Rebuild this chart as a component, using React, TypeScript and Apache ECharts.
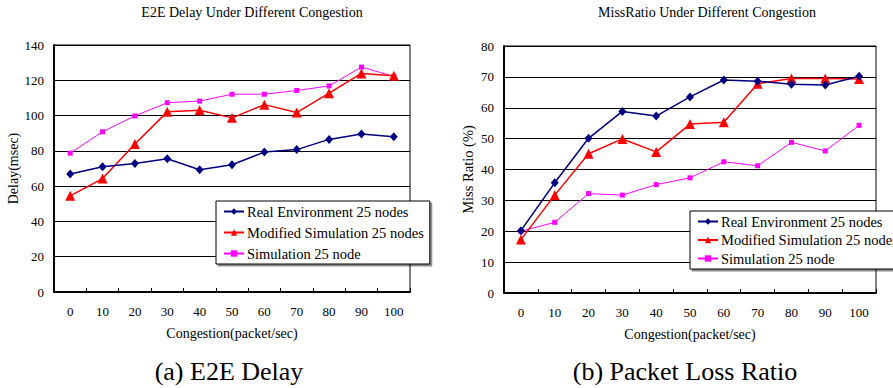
import React, { useEffect, useRef } from "react";
import * as echarts from "echarts";

const categories = ["0", "10", "20", "30", "40", "50", "60", "70", "80", "90", "100"];

const seriesNames = [
  "Real Environment 25 nodes",
  "Modified Simulation 25 nodes",
  "Simulation 25 node",
];

// E2E Delay (msec)
const delayReal = [66.9, 71.0, 72.9, 75.5, 69.3, 72.1, 79.3, 80.7, 86.5, 89.5, 88.0];
const delayModified = [54.5, 64.3, 83.9, 102.1, 103.0, 98.7, 106.2, 101.7, 112.7, 123.9, 122.6];
const delaySim = [78.7, 90.8, 99.8, 107.3, 108.2, 112.1, 112.1, 114.2, 116.8, 127.5, 122.2];

// Miss Ratio (%)
const missReal = [20.2, 35.7, 50.1, 58.8, 57.3, 63.5, 69.0, 68.6, 67.6, 67.4, 70.2];
const missModified = [17.3, 31.7, 45.1, 49.9, 45.7, 54.7, 55.3, 67.8, 69.5, 69.5, 69.3];
const missSim = [20.0, 22.9, 32.2, 31.7, 35.1, 37.3, 42.5, 41.2, 48.8, 46.0, 54.3];

const FONT = "Liberation Serif";

const colors = ["#000080", "#FF0000", "#FF00FF"];
const symbols = ["diamond", "triangle", "rect"];
const symbolSizes: any[] = [[8, 9], 10, 5];
const lineWidths = [1.5, 1.5, 1];

function makeSeries(data: number[][], axisIndex: number) {
  return data.map((d, i) => ({
    name: seriesNames[i],
    type: "line",
    xAxisIndex: axisIndex,
    yAxisIndex: axisIndex,
    data: d,
    symbol: symbols[i],
    symbolSize: symbolSizes[i],
    showSymbol: true,
    itemStyle: { color: colors[i] },
    lineStyle: { color: colors[i], width: lineWidths[i] },
    z: 10 - i,
  }));
}

function xAxisCfg(gridIndex: number) {
  return {
    type: "category",
    gridIndex,
    data: categories,
    boundaryGap: true,
    name: "Congestion(packet/sec)",
    nameLocation: "middle",
    nameGap: 34,
    nameTextStyle: { fontFamily: FONT, fontSize: 14, color: "#000" },
    axisLine: { show: true, lineStyle: { color: "#000", width: 2 } },
    axisTick: { show: true, inside: true, length: 4, alignWithLabel: false, lineStyle: { color: "#000", width: 1 } },
    axisLabel: { margin: 13, fontFamily: FONT, fontSize: 13, color: "#000" },
    splitLine: { show: false },
  };
}

function yAxisCfg(gridIndex: number, max: number, interval: number, name: string, gap: number, nameSize: number) {
  return {
    type: "value",
    gridIndex,
    min: 0,
    max,
    interval,
    name,
    nameLocation: "middle",
    nameGap: gap,
    nameRotate: 90,
    nameTextStyle: { fontFamily: FONT, fontSize: nameSize, color: "#000" },
    axisLine: { show: true, lineStyle: { color: "#000", width: 2 } },
    axisTick: { show: false },
    axisLabel: { margin: 10, fontFamily: FONT, fontSize: 13, color: "#000" },
    splitLine: { show: true, lineStyle: { color: "#000", width: 1 } },
  };
}

function legendCfg(left: number, top: number, gap: number) {
  return {
    show: true,
    orient: "vertical",
    left,
    top,
    itemWidth: 20,
    itemHeight: 8,
    itemGap: gap,
    padding: [3, 6, 3, 7],
    backgroundColor: "#fff",
    borderColor: "#000",
    borderWidth: 1,
    shadowColor: "rgba(0,0,0,0.45)",
    shadowOffsetX: 2,
    shadowOffsetY: 2,
    shadowBlur: 0,
    selectedMode: false,
    textStyle: { fontFamily: FONT, fontSize: 14.5, color: "#000", padding: [0, 0, 0, -2] },
    data: seriesNames.map((n) => ({ name: n })),
    z: 20,
  };
}

export default function App() {
  const ref = useRef<HTMLDivElement>(null);

  useEffect(() => {
    document.body.style.margin = "0";
    if (!ref.current) return;
    const chart = echarts.init(ref.current, null, { renderer: "svg" });
    const option: any = {
      animation: false,
      backgroundColor: "#fff",
      textStyle: { fontFamily: FONT },
      grid: [
        { left: 54, top: 45, width: 356, height: 247, show: true, borderColor: "#000", borderWidth: 1, containLabel: false },
        { left: 504, top: 46, width: 372, height: 247, show: true, borderColor: "#000", borderWidth: 1, containLabel: false },
      ],
      xAxis: [xAxisCfg(0), xAxisCfg(1)],
      yAxis: [
        yAxisCfg(0, 140, 20, "Delay(msec)", 34, 14),
        yAxisCfg(1, 80, 10, "Miss Ratio (%)", 29, 14.5),
      ],
      legend: [legendCfg(216, 201, 6), legendCfg(690, 211, 3.5)],
      series: [
        ...makeSeries([delayReal, delayModified, delaySim], 0),
        ...makeSeries([missReal, missModified, missSim], 1),
      ],
      graphic: [
        {
          type: "text",
          x: 252,
          y: 12,
          style: { text: "E2E Delay Under Different Congestion", align: "center", verticalAlign: "middle", fontFamily: FONT, fontSize: 14, fill: "#000" },
        },
        {
          type: "text",
          x: 707,
          y: 12,
          style: { text: "MissRatio Under Different Congestion", align: "center", verticalAlign: "middle", fontFamily: FONT, fontSize: 14, fill: "#000" },
        },
        {
          type: "text",
          x: 229,
          y: 371,
          style: { text: "(a) E2E Delay", align: "center", verticalAlign: "middle", fontFamily: FONT, fontSize: 26, fill: "#000" },
        },
        {
          type: "text",
          x: 685,
          y: 371,
          style: { text: "(b) Packet Loss Ratio", align: "center", verticalAlign: "middle", fontFamily: FONT, fontSize: 26, fill: "#000" },
        },
      ],
    };
    chart.setOption(option);
    return () => chart.dispose();
  }, []);

  return <div ref={ref} style={{ width: 893, height: 388 }} />;
}
